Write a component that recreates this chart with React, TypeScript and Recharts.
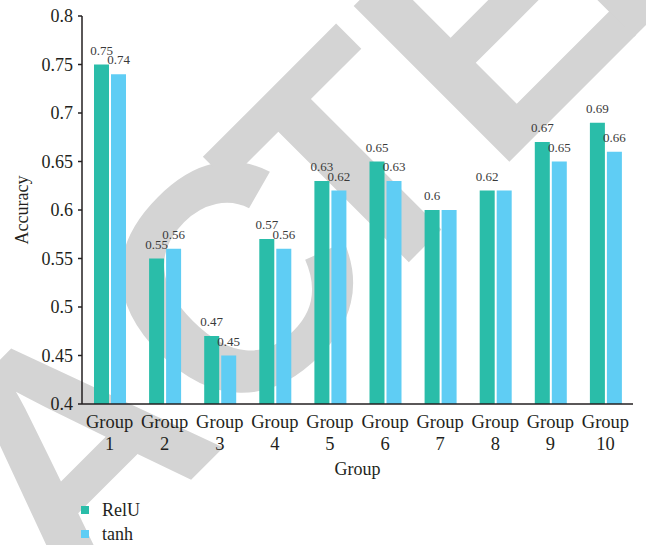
import React from 'react';
import { BarChart, Bar, XAxis, YAxis, Legend, LabelList, Label } from 'recharts';

if (typeof document !== 'undefined') {
  document.body.style.margin = '0';
}

// Accuracy per experiment group for two activation functions
const groups = ['Group 1', 'Group 2', 'Group 3', 'Group 4', 'Group 5', 'Group 6', 'Group 7', 'Group 8', 'Group 9', 'Group 10'];
const reluAccuracy = [0.75, 0.55, 0.47, 0.57, 0.63, 0.65, 0.6, 0.62, 0.67, 0.69];
const tanhAccuracy = [0.74, 0.56, 0.45, 0.56, 0.62, 0.63, 0.6, 0.62, 0.65, 0.66];
const yTicks = [0.4, 0.45, 0.5, 0.55, 0.6, 0.65, 0.7, 0.75, 0.8];
const seriesNames = ['RelU', 'tanh'];

const RELU_COLOR = '#2abda9';
const TANH_COLOR = '#5fcdf4';
const TEXT_COLOR = '#231f20';
const SERIF = 'Liberation Serif, DejaVu Serif, serif';
const STAMP_FONT = 'Liberation Sans, Arial, sans-serif';

const data = groups.map((g, i) => ({ group: g, relu: reluAccuracy[i], tanh: tanhAccuracy[i] }));

const GroupTick = (props: any) => {
  const { x, y, payload } = props;
  const [word, num] = String(payload.value).split(' ');
  return (
    <text x={x} y={y} textAnchor="middle" fill={TEXT_COLOR} fontSize={18.5} style={{ fontFamily: SERIF }}>
      <tspan x={x} dy={24}>{word}</tspan>
      <tspan x={x} dy={22}>{num}</tspan>
    </text>
  );
};

const makeValueLabel = (hideWhenEqual: boolean) => (props: any) => {
  const { x, y, width, value, index } = props;
  if (hideWhenEqual && tanhAccuracy[index] === reluAccuracy[index]) return null;
  return (
    <text x={x + width / 2} y={y - 10} textAnchor="middle" fill="#3a3a3a" fontSize={13} style={{ fontFamily: SERIF }}>
      {value}
    </text>
  );
};

const LegendContent = (props: any) => {
  const items = props.payload || [];
  return (
    <div style={{ height: 71, paddingTop: 24, boxSizing: 'border-box', fontFamily: SERIF }}>
      {items.map((it: any) => (
        <div key={it.value} style={{ height: 24, display: 'flex', alignItems: 'center', paddingLeft: 81 }}>
          <span style={{ width: 8, height: 8, background: it.color, display: 'inline-block' }} />
          <span style={{ marginLeft: 13, fontSize: 18, color: TEXT_COLOR, lineHeight: '24px' }}>{it.value}</span>
        </div>
      ))}
    </div>
  );
};

const YLabel = (props: any) => {
  const vb = props.viewBox || {};
  const cx = 22;
  const cy = vb.y + vb.height / 2;
  return (
    <text x={cx} y={cy} transform={`rotate(-90, ${cx}, ${cy})`} textAnchor="middle" dominantBaseline="central"
      fill={TEXT_COLOR} fontSize={18} style={{ fontFamily: SERIF }}>
      Accuracy
    </text>
  );
};

const XLabel = (props: any) => {
  const vb = props.viewBox || {};
  return (
    <text x={vb.x + vb.width / 2} y={475} textAnchor="middle" fill={TEXT_COLOR} fontSize={18} style={{ fontFamily: SERIF }}>
      Group
    </text>
  );
};

// Diagonal "RETRACTED" stamp drawn behind the chart
const Stamp = () => (
  <svg width={646} height={545} style={{ position: 'absolute', left: 0, top: 0 }}>
    <g transform="translate(356,315) rotate(-45)" fill="#d4d4d4" fontSize={320} fontWeight={700}
      style={{ fontFamily: STAMP_FONT }}>
      <text x={52} y={0} textAnchor="end">RETRAC</text>
      <text x={0} y={0}>TE</text>
      <text x={372} y={0}>D</text>
    </g>
  </svg>
);

export default function App() {
  return (
    <div style={{ position: 'relative', width: 646, height: 545, overflow: 'hidden', background: '#fff' }}>
      <Stamp />
      <div style={{ position: 'absolute', left: 0, top: 0 }}>
        <BarChart width={646} height={545} data={data} margin={{ top: 16, right: 13, left: 0, bottom: 0 }}
          barSize={15} barGap={2}>
          <XAxis dataKey="group" height={70} tickSize={0} tickMargin={0} tickLine={false} interval={0}
            axisLine={{ stroke: TEXT_COLOR, strokeWidth: 1.5 }} tick={<GroupTick />}>
            <Label content={<XLabel />} />
          </XAxis>
          <YAxis width={82} domain={[0.4, 0.8]} ticks={yTicks} allowDataOverflow tickSize={4} tickMargin={5}
            axisLine={{ stroke: TEXT_COLOR, strokeWidth: 1.5 }} tickLine={{ stroke: TEXT_COLOR, strokeWidth: 1.5 }}
            tick={{ fill: TEXT_COLOR, fontSize: 18, style: { fontFamily: SERIF } }}>
            <Label content={<YLabel />} />
          </YAxis>
          <Legend verticalAlign="bottom" align="left" height={71} content={<LegendContent />} />
          <Bar dataKey="relu" name={seriesNames[0]} fill={RELU_COLOR} isAnimationActive={false}>
            <LabelList dataKey="relu" content={makeValueLabel(false)} />
          </Bar>
          <Bar dataKey="tanh" name={seriesNames[1]} fill={TANH_COLOR} isAnimationActive={false}>
            <LabelList dataKey="tanh" content={makeValueLabel(true)} />
          </Bar>
        </BarChart>
      </div>
    </div>
  );
}
